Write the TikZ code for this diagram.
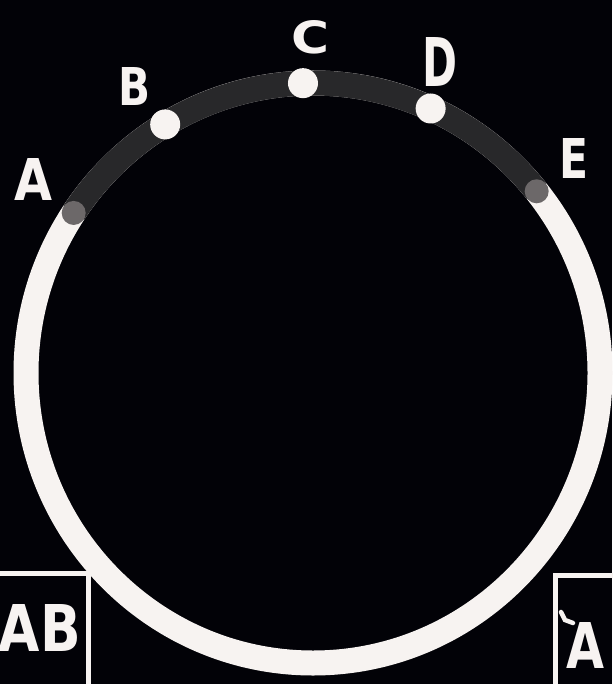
\documentclass[tikz,border=0pt]{standalone}
\usepackage{fontspec}
\setmainfont{DejaVu Sans}
\usetikzlibrary{calc}
\definecolor{bg}{HTML}{020207}
\definecolor{ring}{HTML}{F7F3F1}
\definecolor{darkarc}{HTML}{28282A}
\definecolor{graydot}{HTML}{6C6869}
\newcommand{\lettr}[3]{\resizebox{#1pt}{#2pt}{\bfseries #3}}
\tikzset{
  lbl/.style={text=ring, inner sep=0pt, outer sep=0pt},
  whitedot/.style={circle, fill=ring, minimum size=30pt, inner sep=0pt},
  greydot/.style={circle, fill=graydot, minimum size=24pt, inner sep=0pt},
  frameline/.style={draw=ring, line width=5pt},
}
\begin{document}
\begin{tikzpicture}[x=1pt, y=-1pt]
\fill[bg] (0,0) rectangle (612,684);
\useasboundingbox (0,0) rectangle (612,684);
\coordinate (O) at (313,373);
% ring
\draw[ring, line width=25pt] (O) ellipse [x radius=287, y radius=290];
\draw[darkarc, line width=25pt] ($(O)+(-146.5:287 and 290)$) arc[start angle=-146.5, end angle=-38.8, x radius=287, y radius=290];
% dots
\node[greydot] (A) at ($(O)+(-146.5:287 and 290)$) {};
\node[whitedot] (B) at ($(O)+(-121:287 and 290)$) {};
\node[whitedot] (C) at ($(O)+(-92:287 and 290)$) {};
\node[whitedot] (D) at ($(O)+(-65.8:287 and 290)$) {};
\node[greydot] (E) at ($(O)+(-38.8:287 and 290)$) {};
% labels
\node[lbl] (lA) at (34,179) {\lettr{38}{42}{A}};
\node[lbl] (lB) at (134,86) {\lettr{32}{38}{B}};
\node[lbl] (lC) at (311,37) {\lettr{38}{33}{C}};
\node[lbl] (lD) at (440,62) {\lettr{35}{49}{D}};
\node[lbl] (lE) at (574,158) {\lettr{29}{40}{E}};
% bottom-left box
\draw[frameline] (-5,573) -- (88,573) -- (88,690);
\node[lbl] (lAB) at (40,628) {\lettr{82}{47}{AB}};
% bottom-right box
\draw[frameline] (555,690) -- (555,575) -- (617,575);
\draw[ring, line width=4.5pt, line cap=round] (561,612) -- (565,620) -- (573,623);
\node[lbl] (lA2) at (585,645) {\lettr{38}{46}{A}};
\end{tikzpicture}
\end{document}
